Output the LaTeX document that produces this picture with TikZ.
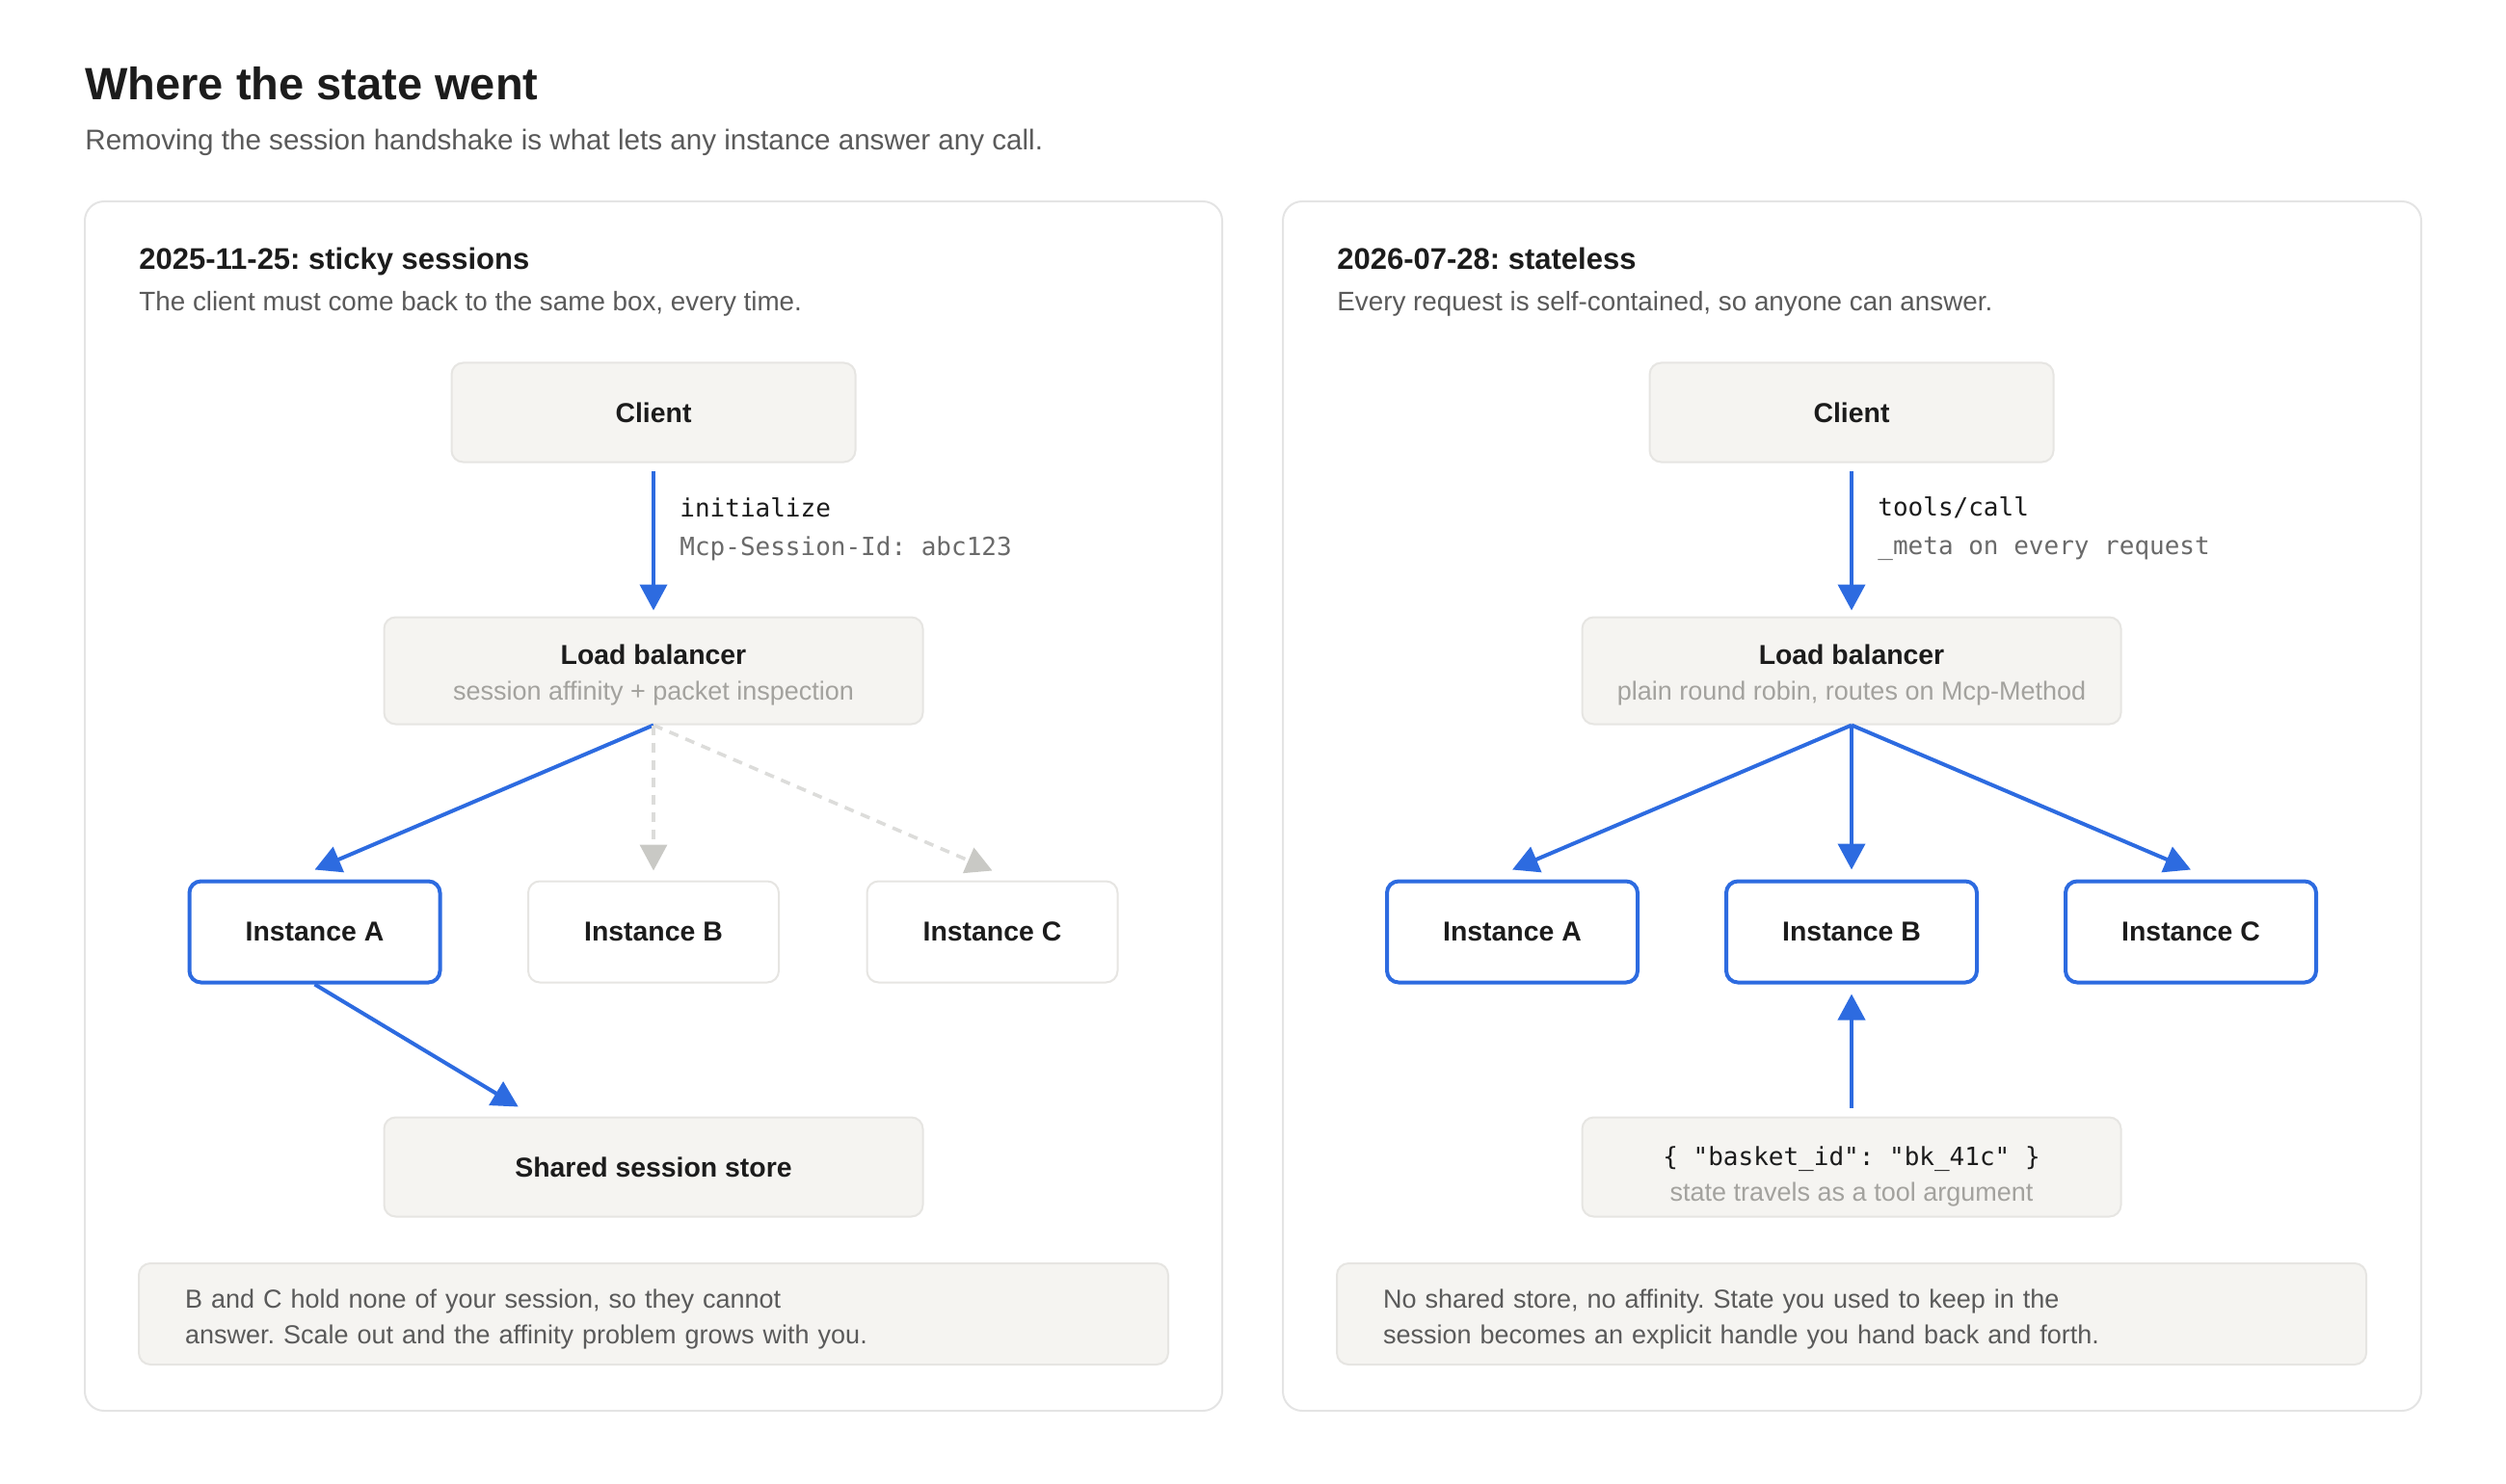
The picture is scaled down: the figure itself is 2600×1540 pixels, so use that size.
\documentclass[tikz,border=0pt]{standalone}
\usepackage{fontspec}
\setmainfont{Liberation Sans}
\setmonofont{DejaVu Sans Mono}
\usepackage{xcolor}
\usetikzlibrary{positioning,arrows.meta,calc}
\frenchspacing

\definecolor{ink}{HTML}{1C1C1C}
\definecolor{subgray}{HTML}{5A5A5A}
\definecolor{faint}{HTML}{A3A29E}
\definecolor{monogray}{HTML}{6A6A6A}
\definecolor{panelline}{HTML}{E4E4E4}
\definecolor{boxfill}{HTML}{F5F4F1}
\definecolor{boxline}{HTML}{E6E5E2}
\definecolor{mcpblue}{HTML}{2D6BE0}
\definecolor{ghostline}{HTML}{DCDCDA}
\definecolor{ghosttip}{HTML}{C9C9C5}

\begin{document}
\begin{tikzpicture}[
    x=0.5pt, y=-0.5pt,
    every node/.style={inner sep=0pt, text=ink},
    panel/.style={draw=panelline, line width=1pt, rounded corners=10pt},
    box/.style={draw=boxline, fill=boxfill, line width=1pt, rounded corners=6pt, align=center,
        minimum width=279.5pt, minimum height=51.5pt, font=\fontsize{14.2}{19}\selectfont\bfseries},
    inst/.style={draw=boxline, fill=white, line width=1pt, rounded corners=6pt,
        minimum width=130pt, minimum height=52.5pt, font=\fontsize{14.2}{19}\selectfont\bfseries},
    hot/.style={draw=mcpblue, line width=2pt},
    note/.style={draw=boxline, fill=boxfill, line width=1pt, rounded corners=6pt, inner xsep=24pt,
        minimum height=52.5pt, text width=486pt, align=left, text=subgray,
        font=\fontsize{13.5}{18.5}\selectfont},
    lbl/.style={anchor=west, font=\fontsize{13}{16}\selectfont\ttfamily},
    arr/.style={draw=mcpblue, line width=2pt, -{Triangle[length=13.5pt, width=14pt]}},
    ghost/.style={draw=ghostline, dash pattern=on 5pt off 4pt, line width=1.8pt,
        -{Triangle[length=13.5pt, width=14pt, color=ghosttip]}}
]
\useasboundingbox (0,0) rectangle (2600,1540);

% heading
\node[anchor=base west, font=\fontsize{23.5}{28}\selectfont\bfseries] (title) at (88,104) {Where the state went};
\node[anchor=base west, font=\fontsize{14.8}{18}\selectfont, text=subgray] (subtitle) at (88,156)
    {Removing the session handshake is what lets any instance answer any call.};

% panels
\draw[panel] (88,209) rectangle (1268,1464);
\draw[panel] (1331,209) rectangle (2512,1464);

% left: sticky sessions
\node[anchor=base west, font=\fontsize{15.5}{19}\selectfont\bfseries] (lhead) at (144,280) {2025-11-25: sticky sessions};
\node[anchor=base west, font=\fontsize{13.9}{17}\selectfont, text=subgray] (lsub) at (144,323)
    {The client must come back to the same box, every time.};

\node[box, minimum width=209.5pt] (lclient) at (678,428) {Client};
\node[box, minimum height=55.5pt] (llb) at (678,696)
    {\rule{0pt}{15pt}Load balancer\\[-0.5pt]{\fontsize{13.5}{15}\selectfont\mdseries\color{faint}session affinity + packet inspection}};
\node[lbl] (linit) at (705,527) {initialize};
\node[lbl, text=monogray] (lsid) at (705,569) {Mcp-Session-Id: abc123};

\node[inst, hot] (la) at (326.5,967) {Instance A};
\node[inst] (lb) at (678,967) {Instance B};
\node[inst] (lc) at (1029.5,967) {Instance C};

\node[box] (lstore) at (678,1211) {Shared session store};
\node[note] (lnote) at (678,1363.5)
    {\rule{0pt}{15pt}B and C hold none of your session, so they cannot\\answer. Scale out and the affinity problem grows with you.};

\draw[arr, shorten <=4pt, shorten >=3pt] (lclient) -- (llb);
\draw[arr] (llb.south) -- ([yshift=5pt]la.north);
\draw[ghost] (llb.south) -- ([yshift=5pt]lb.north);
\draw[ghost] (llb.south) -- ([yshift=5pt]lc.north);
\draw[arr] (la.south) -- ([yshift=5pt]$(lstore.north west)!0.25!(lstore.north east)$);

% right: stateless
\node[anchor=base west, font=\fontsize{15.5}{19}\selectfont\bfseries] (rhead) at (1387,280) {2026-07-28: stateless};
\node[anchor=base west, font=\fontsize{13.9}{17}\selectfont, text=subgray] (rsub) at (1387,323)
    {Every request is self-contained, so anyone can answer.};

\node[box, minimum width=209.5pt] (rclient) at (1921,428) {Client};
\node[box, minimum height=55.5pt] (rlb) at (1921,696)
    {\rule{0pt}{15pt}Load balancer\\[-0.5pt]{\fontsize{13.5}{15}\selectfont\mdseries\color{faint}plain round robin, routes on Mcp-Method}};
\node[lbl] (rcall) at (1948,527) {tools/call};
\node[lbl, text=monogray] (rmeta) at (1948,569) {\_meta on every request};

\node[inst, hot] (ra) at (1569,967) {Instance A};
\node[inst, hot] (rb) at (1921,967) {Instance B};
\node[inst, hot] (rc) at (2273,967) {Instance C};

\node[box] (rarg) at (1921,1211)
    {\rule{0pt}{20pt}{\fontsize{13}{16}\selectfont\ttfamily\mdseries \{ "basket\_id": "bk\_41c" \}}\\[-0.5pt]{\fontsize{13.5}{15}\selectfont\mdseries\color{faint}state travels as a tool argument}};
\node[note] (rnote) at (1921,1363.5)
    {\rule{0pt}{15pt}No shared store, no affinity. State you used to keep in the\\session becomes an explicit handle you hand back and forth.};

\draw[arr, shorten <=4pt, shorten >=3pt] (rclient) -- (rlb);
\draw[arr] (rlb.south) -- ([yshift=5pt]ra.north);
\draw[arr] (rlb.south) -- ([yshift=5pt]rb.north);
\draw[arr] (rlb.south) -- ([yshift=5pt]rc.north);
\draw[arr, shorten <=4.5pt] (rarg) -- ([yshift=-5pt]rb.south);
\end{tikzpicture}
\end{document}
